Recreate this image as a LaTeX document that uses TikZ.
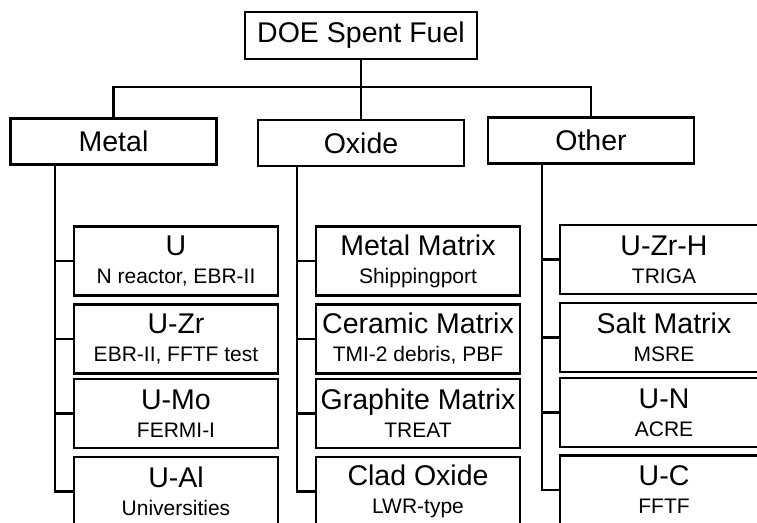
\documentclass[tikz,border=0pt]{standalone}
\usepackage{fontspec}
\setmainfont{Liberation Sans}
\usetikzlibrary{positioning}
\newcommand{\subtext}{\fontsize{21}{23}\selectfont}
\tikzset{
  every node/.style={font=\fontsize{28.5}{30}\selectfont},
  rootbox/.style={draw, line width=2.7pt, minimum width=232pt, minimum height=47pt, inner sep=0pt},
  groupbox/.style={draw, line width=2.7pt, minimum width=206pt, minimum height=46pt, inner sep=0pt},
  leafbox/.style={draw, line width=2.7pt, minimum width=204pt, minimum height=69pt, inner sep=0pt, align=center},
  link/.style={draw, line width=2.9pt},
}

\begin{document}
\begin{tikzpicture}[x=1pt,y=-1pt]
  \useasboundingbox (0,0) rectangle (757,522);
  \fill[white] (0,0) rectangle (757,522);
  \clip (0,0) rectangle (757,522);

  % Top of the tree
  \node[rootbox] (doe) at (361,35.5) {DOE Spent Fuel};

  % Fuel groups
  \node[groupbox] (metal) at (113.5,141.5) {Metal};
  \node[groupbox] (oxide) at (361,143) {Oxide};
  \node[groupbox] (other) at (591,140.5) {Other};

  \coordinate (bus) at (361,87);
  \draw[link] (metal.north) |- (bus) -| (other.north);
  \draw[link] (doe.south) -- (oxide.north);

  % Metal fuels
  \node[leafbox] (u)   at (176,261)   {U\\[-2pt]{\subtext N reactor, EBR-II}};
  \node[leafbox] (uzr) at (176,339)   {U-Zr\\[-2pt]{\subtext EBR-II, FFTF test}};
  \node[leafbox] (umo) at (176,413.5) {U-Mo\\[-2pt]{\subtext FERMI-I}};
  \node[leafbox] (ual) at (176,491.5) {U-Al\\[-2pt]{\subtext Universities}};

  % Oxide fuels
  \node[leafbox] (metmat) at (418,261)   {Metal Matrix\\[-2pt]{\subtext Shippingport}};
  \node[leafbox] (cermat) at (418,339)   {Ceramic Matrix\\[-2pt]{\subtext TMI-2 debris, PBF}};
  \node[leafbox] (grmat)  at (418,413.5) {Graphite Matrix\\[-2pt]{\subtext TREAT}};
  \node[leafbox] (clad)   at (418,491.5) {Clad Oxide\\[-2pt]{\subtext LWR-type}};

  % Other fuels (cut off at the right edge)
  \node[leafbox, minimum width=208pt] (uzrh)  at (664,259.5) {U-Zr-H\\[-2pt]{\subtext TRIGA}};
  \node[leafbox, minimum width=208pt] (saltm) at (664,337.5) {Salt Matrix\\[-2pt]{\subtext MSRE}};
  \node[leafbox, minimum width=208pt] (un)    at (664,412.5) {U-N\\[-2pt]{\subtext ACRE}};
  \node[leafbox, minimum width=208pt] (uc)    at (664,490)   {U-C\\[-2pt]{\subtext FFTF}};

  % Spines down each group
  \coordinate (mspine) at (55,0);
  \coordinate (ospine) at (297,0);
  \coordinate (tspine) at (542,0);
  \foreach \leaf in {u,uzr,umo,ual}
    \draw[link] (metal.south -| mspine) |- (\leaf.west);
  \foreach \leaf in {metmat,cermat,grmat,clad}
    \draw[link] (oxide.south -| ospine) |- (\leaf.west);
  \foreach \leaf in {uzrh,saltm,un,uc}
    \draw[link] (other.south -| tspine) |- (\leaf.west);
\end{tikzpicture}
\end{document}
